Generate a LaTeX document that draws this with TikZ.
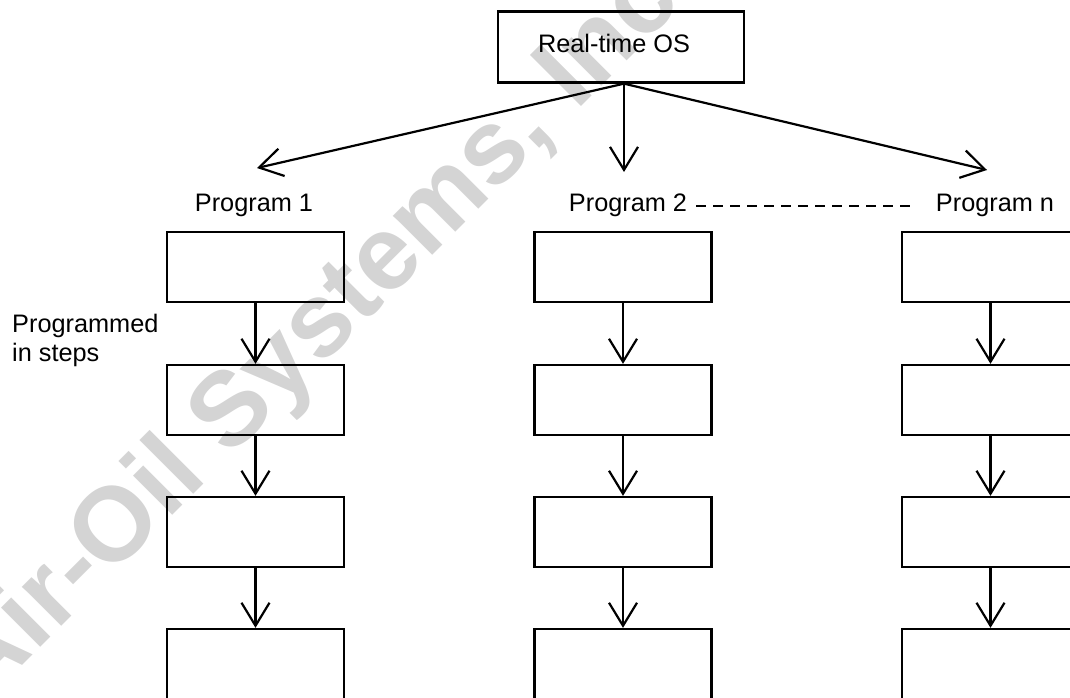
\documentclass[tikz,border=0pt]{standalone}
\usepackage{fontspec}
\setmainfont{Liberation Sans}
\usetikzlibrary{arrows.meta}
\begin{document}
\begin{tikzpicture}[x=1pt,y=-1pt,
  lbl/.style={font=\fontsize{25.3}{29}\selectfont, inner sep=0pt},
  stepbox/.style={draw, line width=2.3pt, minimum width=177pt, minimum height=70pt, inner sep=0pt},
  arr/.style={line width=2.2pt, -{Straight Barb[length=23pt,width=28pt,line width=2.2pt]}},
  wm/.style={font=\fontsize{105}{110}\selectfont\bfseries, text=black!17, inner sep=0pt}
]
\useasboundingbox (0,0) rectangle (1070,697);
% watermark
\node[wm, rotate=45, anchor=base] (wmark) at (343,345) {Air-Oil Systems, Inc.};

% top box
\node[stepbox, minimum width=246pt, minimum height=71pt] (os) at (621,47) {};
\node[lbl, anchor=base] (ostxt) at (614,52) {Real-time OS};

\coordinate (t1) at (257,168);
\coordinate (t2) at (624,172);
\coordinate (t3) at (987,170);
\draw[arr] ([xshift=3pt]os.south) -- (t1);
\draw[arr] ([xshift=3pt]os.south) -- (t2);
\draw[arr] ([xshift=3pt]os.south) -- (t3);

% program labels
\node[lbl, anchor=base] (p1) at (254,211) {Program 1};
\node[lbl, anchor=base] (p2) at (628,211) {Program 2};
\node[lbl, anchor=base] (pn) at (995,211) {Program n};
\draw[line width=2.2pt, dash pattern=on 10pt off 7pt] ([xshift=9pt,yshift=5pt]p2.base east) -- ([xshift=-19pt,yshift=5pt]pn.base west);

\node[lbl, anchor=base west, align=left] (pis) at (12,361) {Programmed\\in steps};

% columns
\foreach \c/\x in {1/255.5, 2/623, 3/990.5} {
  \node[stepbox] (b\c1) at (\x,267) {};
  \node[stepbox] (b\c2) at (\x,400) {};
  \node[stepbox] (b\c3) at (\x,532) {};
  \node[stepbox] (b\c4) at (\x,664) {};
  \draw[arr] (b\c1.south) -- (b\c2.north);
  \draw[arr] (b\c2.south) -- (b\c3.north);
  \draw[arr] (b\c3.south) -- (b\c4.north);
}
\end{tikzpicture}
\end{document}
